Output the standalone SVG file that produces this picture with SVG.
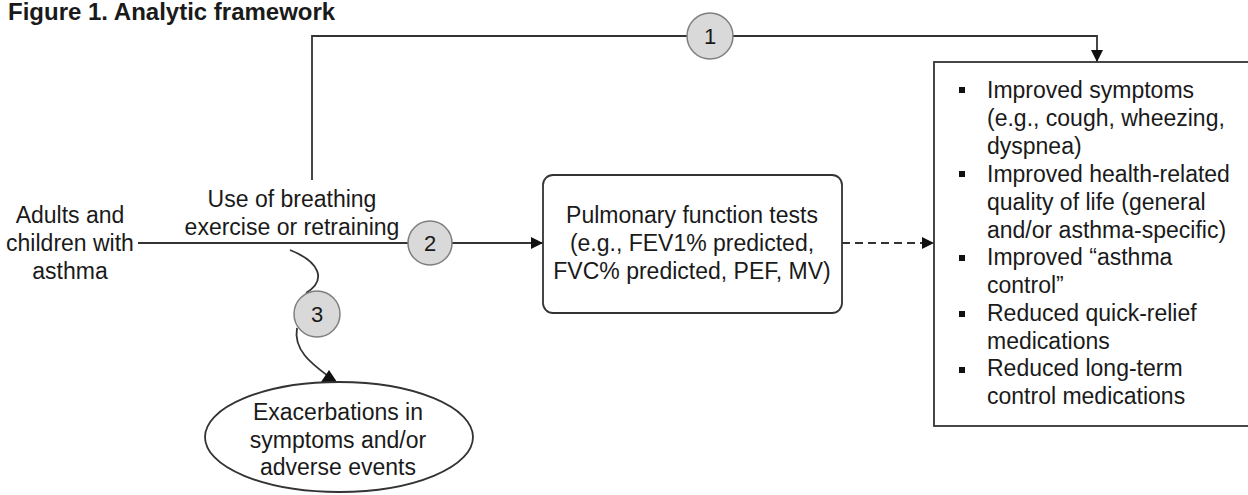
<svg xmlns="http://www.w3.org/2000/svg" width="1248" height="495" viewBox="0 0 1248 495">
<style>
text{font-family:"Liberation Sans",Arial,sans-serif;fill:#1a1a1a;}
.t{font-size:23px;}
.c{text-anchor:middle;}
.title{font-size:24px;font-weight:bold;}
.ln{fill:none;stroke:#333;stroke-width:1.8;}
.node{fill:#fff;stroke:#333;stroke-width:1.8;}
.kq{fill:#d9d9d9;stroke:#7f7f7f;stroke-width:1.5;}
.num{font-size:22px;text-anchor:middle;}
.bul{fill:#111;}
</style>
<defs>
<marker id="ah" viewBox="0 0 12 12" refX="12" refY="6" markerWidth="12" markerHeight="12" markerUnits="userSpaceOnUse" orient="auto">
<path d="M0,0 L12,6 L0,12 Z" fill="#111"/>
</marker>
</defs>
<rect width="1248" height="495" fill="#fff"/>
<text class="title" x="8" y="20">Figure 1. Analytic framework</text>

<g id="connectors">
<path class="ln" d="M312,180 L312,36 L1097,36 L1097,62" marker-end="url(#ah)"/>
<path class="ln" d="M138,243 L543,243" marker-end="url(#ah)"/>
<path class="ln" d="M842,243 L934,243" stroke-dasharray="8,5" marker-end="url(#ah)"/>
<path class="ln" d="M290,250 C320,262 327,280 306,293"/>
<path class="ln" d="M297,328 C293,350 312,364 328,376"/>
<polygon points="329,370 337,382 321,382" fill="#111"/>
</g>

<g id="population">
<text class="t c" x="70" y="223">Adults and</text>
<text class="t c" x="70" y="251">children with</text>
<text class="t c" x="70" y="279">asthma</text>
</g>

<g id="intervention">
<text class="t c" x="292" y="207">Use of breathing</text>
<text class="t c" x="292" y="235">exercise or retraining</text>
</g>

<g id="pft">
<rect class="node" x="543" y="175" width="299" height="138" rx="10"/>
<text class="t c" x="692" y="223">Pulmonary function tests</text>
<text class="t c" x="692" y="251">(e.g., FEV1% predicted,</text>
<text class="t c" x="692" y="279">FVC% predicted, PEF, MV)</text>
</g>

<g id="harms">
<ellipse class="node" cx="339" cy="437" rx="134" ry="55"/>
<text class="t c" x="338" y="420">Exacerbations in</text>
<text class="t c" x="338" y="448">symptoms and/or</text>
<text class="t c" x="338" y="475">adverse events</text>
</g>

<g id="outcomes">
<rect class="node" x="934" y="62" width="330" height="364"/>
<rect class="bul" x="959" y="87" width="6" height="6"/>
<rect class="bul" x="959" y="171" width="6" height="6"/>
<rect class="bul" x="959" y="255" width="6" height="6"/>
<rect class="bul" x="959" y="311" width="6" height="6"/>
<rect class="bul" x="959" y="367" width="6" height="6"/>
<text class="t" x="987" y="98">Improved symptoms</text>
<text class="t" x="987" y="126">(e.g., cough, wheezing,</text>
<text class="t" x="987" y="154">dyspnea)</text>
<text class="t" x="987" y="182">Improved health-related</text>
<text class="t" x="987" y="210">quality of life (general</text>
<text class="t" x="987" y="238">and/or asthma-specific)</text>
<text class="t" x="987" y="265">Improved “asthma</text>
<text class="t" x="987" y="293">control”</text>
<text class="t" x="987" y="321">Reduced quick-relief</text>
<text class="t" x="987" y="349">medications</text>
<text class="t" x="987" y="376">Reduced long-term</text>
<text class="t" x="987" y="404">control medications</text>
</g>

<g id="kq1">
<circle class="kq" cx="710" cy="36" r="23"/>
<text class="num" x="710" y="44">1</text>
</g>
<g id="kq2">
<circle class="kq" cx="430" cy="243" r="22"/>
<text class="num" x="430" y="251">2</text>
</g>
<g id="kq3">
<circle class="kq" cx="317" cy="314" r="23"/>
<text class="num" x="317" y="322">3</text>
</g>
</svg>
